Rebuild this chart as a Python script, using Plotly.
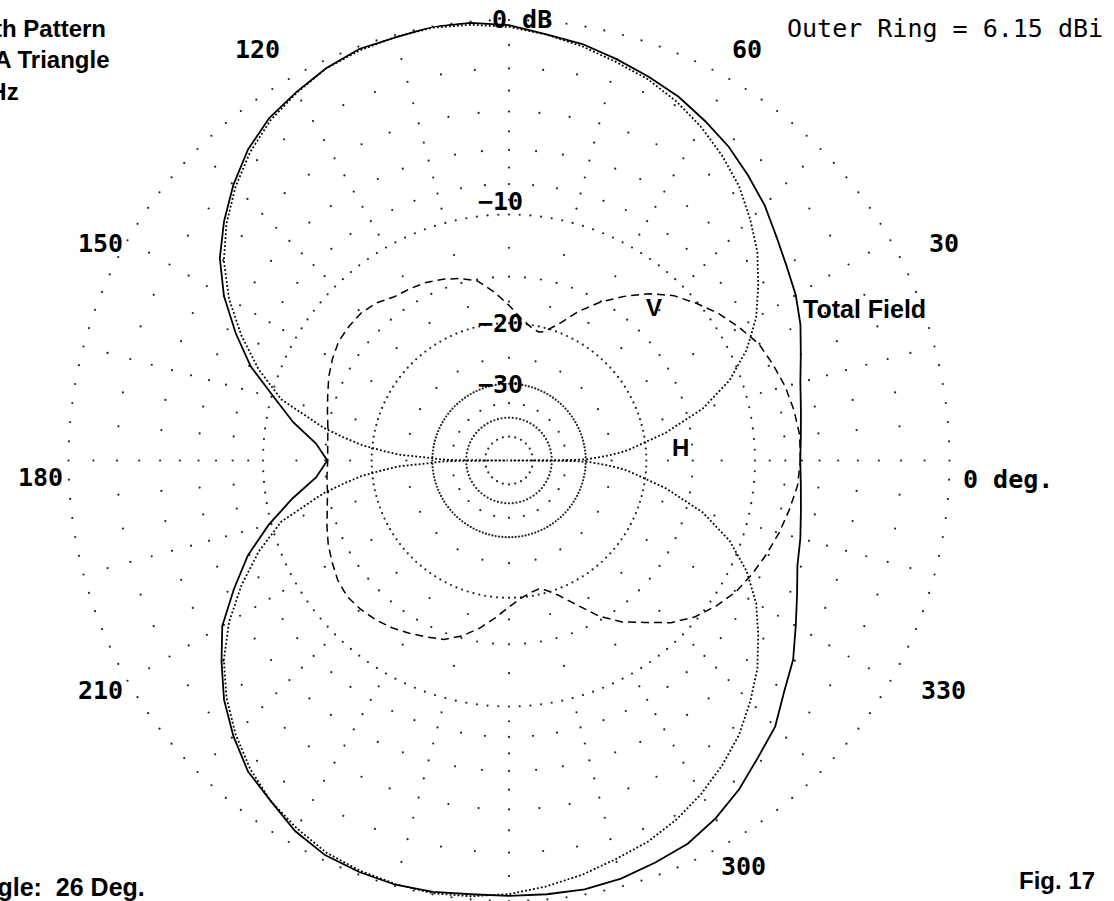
import numpy as np
import plotly.graph_objects as go

W, H = 1114, 901

# ---------------- data (dB relative to outer ring, ARRL log scale) ----------------
total_az = list(range(0, 361, 5))
total_db = [-7.1, -7.0, -6.8, -6.5, -6.0, -5.4, -4.9, -4.5, -4.0, -3.4,
            -2.9, -2.4, -2.0, -1.6, -1.3, -1.0, -0.7, -0.5, -0.2, -0.05,
            0.0, -0.1, -0.1, -0.3, -0.6, -0.9, -1.4, -2.1, -2.9, -3.8,
            -5.0, -6.5, -8.1, -10.2, -12.0, -14.1, -15.2, -14.1, -11.9, -9.8,
            -7.9, -6.4, -4.9, -3.9, -2.9, -2.1, -1.4, -1.0, -0.5, -0.2,
            -0.1, -0.05, -0.1, -0.2, -0.2, -0.2, -0.2, -0.3, -0.5, -0.7,
            -1.1, -1.6, -2.2, -2.7, -3.5, -4.1, -4.9, -5.6, -6.2, -6.5,
            -6.8, -7.0, -7.1]

v_az = [0, 5, 10, 15, 20, 25, 30, 35, 40, 45, 50, 55, 60, 65, 70, 75, 77, 80, 85, 90,
        95, 100, 105, 110, 115, 120, 125, 130, 135, 140, 145, 150, 155, 160, 165, 170, 175, 180,
        185, 190, 195, 200, 205, 210, 215, 220, 225, 230, 235, 240, 245, 250, 255, 260, 265, 270,
        275, 280, 283, 285, 290, 295, 300, 305, 310, 315, 320, 325, 330, 335, 340, 345, 350, 355, 360]
v_db = [-7.09, -7.07, -7.21, -7.42, -7.72, -8.04, -8.66, -9.31, -10.1, -10.92, -12.09, -13.52,
        -15.08, -16.9, -19.05, -20.52, -20.7, -20.39, -19.41, -17.91,
        -16.44, -15.13, -14.57, -14.17, -13.86, -13.69, -13.56, -13.06, -12.81, -12.81, -12.89,
        -13.23, -13.65, -14.17, -14.62, -14.99, -15.17, -15.24,
        -15.1, -14.95, -14.6, -14.1, -13.6, -13.2, -12.8, -12.6, -12.7, -12.9, -13.2, -13.6, -14.0,
        -14.4, -15.2, -16.3, -17.6, -18.9,
        -19.9, -20.5, -20.7, -20.5, -19.3, -17.5, -15.4, -13.8, -12.6, -11.2, -10.2, -9.5, -8.9,
        -8.5, -8.15, -7.8, -7.5, -7.2, -7.09]

h_az = [0, 0.5, 1, 2, 3, 4, 5, 10, 15, 20, 25, 30, 35, 40, 45, 50, 55, 60, 65, 70, 75, 80, 85, 90,
        95, 100, 105, 110, 115, 120, 125, 130, 135, 140, 145, 150, 155, 160, 165, 170, 172, 174,
        176, 177, 178, 179, 179.5, 180,
        180.5, 181, 182, 183, 184, 186, 188, 190, 195, 200, 205, 210, 215, 220, 225, 230, 235,
        240, 245, 250, 255, 260, 265, 270, 275, 280, 285, 290, 295, 300, 305, 310, 315, 320, 325,
        330, 335, 340, 345, 350, 355, 356, 357, 358, 359, 359.5, 360]
h_db = [-100, -33, -29.5, -27.3, -25.4, -23.7, -22.4, -17.5, -13.5, -10.8, -8.9, -7.45, -6.35,
        -5.26, -4.39, -3.56, -2.91, -2.32, -1.82, -1.41, -1.12, -0.79, -0.51, -0.27,
        -0.12, -0.04, -0.08, -0.16, -0.31, -0.63, -1.0, -1.54, -2.23, -3.05, -4.04, -5.31, -6.87,
        -8.63, -10.74, -14.6, -16.6, -18.7,
        -22.0, -24.0, -29.0, -32.0, -35.0, -100,
        -35.0, -32.0, -29.0, -24.0, -22.0, -18.7, -16.6, -14.6, -10.74, -8.63, -6.87, -5.31,
        -4.04, -3.05, -2.23, -1.54, -1.0,
        -0.63, -0.31, -0.16, -0.08, -0.04, -0.12, -0.27, -0.51, -0.79, -1.12, -1.41, -1.82, -2.32,
        -2.91, -3.56, -4.39, -5.26, -6.35,
        -7.45, -8.9, -10.8, -13.5, -17.5, -22.4, -23.7, -25.4, -27.3, -29.5, -33, -100]

# grid rings (dB) and the angular spacing of their dots (deg)
ring_db = [0, -1, -2, -3, -4, -5, -6, -7, -8, -9, -10, -12.5, -15, -17.5, -20, -25, -30, -35, -40, -50]
ring_step = [2.5, 15, 5, 15, 5, 15, 5, 15, 5, 15, 2.5, 15, 5, 15, 2.5, 15, 2.5, 15, 5, 15]

angle_labels = ["0 deg.", "30", "60", "120", "150", "180", "210", "300", "330"]
ring_labels = ["0 dB", "\u221210", "\u221220", "\u221230"]


def scale(db):
    """ARRL log scale: radius shrinks by 0.89 for every 2 dB."""
    return np.power(0.89, -np.asarray(db, dtype=float) / 2.0)


# ---------------- figure ----------------
fig = go.Figure()

gt, gr = [], []
for lvl, step in zip(ring_db, ring_step):
    for a in np.arange(0, 360, step):
        gt.append(float(a))
        gr.append(float(scale(lvl)))
fig.add_trace(go.Scatterpolar(r=gr, theta=gt, mode="markers",
                              marker=dict(size=2.2, color="#222222", line=dict(width=0)),
                              hoverinfo="skip"))

fig.add_trace(go.Scatterpolar(r=scale(h_db), theta=h_az, mode="lines",
                              line=dict(color="black", width=1.8, dash="1.8px,2.2px"),
                              hoverinfo="skip"))
fig.add_trace(go.Scatterpolar(r=scale(v_db), theta=v_az, mode="lines",
                              line=dict(color="black", width=1.5, dash="8px,5px"),
                              hoverinfo="skip"))
fig.add_trace(go.Scatterpolar(r=scale(total_db), theta=total_az, mode="lines",
                              line=dict(color="black", width=1.8),
                              hoverinfo="skip"))

CX, CY, RAD = 509.0, 460.5, 440.5
fig.update_layout(
    width=W, height=H,
    margin=dict(l=0, r=0, t=0, b=0),
    paper_bgcolor="white",
    showlegend=False,
    hovermode=False,
    polar=dict(
        domain=dict(x=[(CX - RAD) / W, (CX + RAD) / W], y=[0, (H - (CY - RAD)) / H]),
        bgcolor="white",
        radialaxis=dict(range=[0, 1], visible=False, showgrid=False),
        angularaxis=dict(rotation=0, direction="counterclockwise", showgrid=False,
                         showline=False, showticklabels=False, ticks=""),
    ),
)


def px(x):
    return x / W


def py(y):
    return 1 - y / H


mono = dict(family="DejaVu Sans Mono", size=25, color="black")
sans = dict(family="Liberation Sans", size=24, color="black")
sans25 = dict(family="Liberation Sans", size=25, color="black")

ann = []
angle_pos = [(1008, 479), (944, 243), (747, 50), (257, 50), (100, 243), (40, 477),
             (100, 690), (743, 866), (943, 690)]
for t, (x, y) in zip(angle_labels, angle_pos):
    ann.append(dict(text="<b>%s</b>" % t, x=px(x), y=py(y), font=mono))
ring_pos = [(522, 19), (500, 201), (500, 324), (500, 384)]
for t, (x, y) in zip(ring_labels, ring_pos):
    ann.append(dict(text="<b>%s</b>" % t, x=px(x), y=py(y), font=mono))
ann.append(dict(text="Outer Ring = 6.15 dBi", x=px(944.5), y=py(28), font=mono))

ann.append(dict(text="<b>Azimuth Pattern</b>", x=px(108), y=py(28), xanchor="right", font=sans))
ann.append(dict(text="<b>Inverted-A Triangle</b>", x=px(112), y=py(60), xanchor="right", font=sans))
ann.append(dict(text="<b>14.2 MHz</b>", x=px(21), y=py(91), xanchor="right", font=sans))
ann.append(dict(text="<b>Elevation Angle:\u00a0 26 Deg.</b>", x=px(147), y=py(887), xanchor="right", font=sans25))
ann.append(dict(text="<b>Fig. 17</b>", x=px(1097), y=py(880), xanchor="right", font=sans))
ann.append(dict(text="<b>Total Field</b>", x=px(801), y=py(309), xanchor="left", font=sans25))
ann.append(dict(text="<b>V</b>", x=px(654), y=py(308), font=sans))
ann.append(dict(text="<b>H</b>", x=px(680), y=py(448), font=sans))

for a in ann:
    a.update(xref="paper", yref="paper", showarrow=False)
    a.setdefault("xanchor", "center")
    a.setdefault("yanchor", "middle")
fig.update_layout(annotations=ann)

fig.write_html("out.html",
               config={"displayModeBar": False, "staticPlot": True},
               post_script="document.body.style.margin='0';document.body.style.overflow='hidden';")
